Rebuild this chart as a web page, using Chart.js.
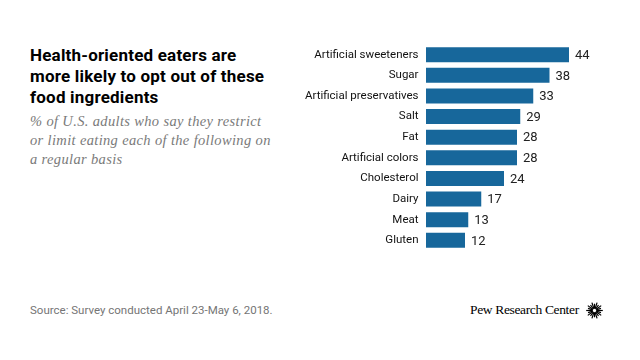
<!DOCTYPE html>
<html><head><meta charset="utf-8">
<script src="https://cdn.jsdelivr.net/npm/chart.js@4/dist/chart.umd.min.js"></script>
<style>
html,body{margin:0;padding:0;background:#fff;width:640px;height:360px;overflow:hidden;position:relative;font-family:Roboto,"Liberation Sans",sans-serif}
#title{position:absolute;left:30px;top:45px;width:280px;font-weight:700;font-size:17px;line-height:21px;color:#000;letter-spacing:0.2px}
#sub{position:absolute;left:30px;top:112px;width:262px;font-family:"Liberation Serif",serif;font-style:italic;font-size:14.5px;line-height:19px;color:#7a7a7a;letter-spacing:0.35px}
#src{position:absolute;left:30px;top:303px;font-size:11.5px;color:#757575}
#pew{position:absolute;left:470px;top:302px;font-family:"Liberation Serif",serif;font-size:13.5px;color:#000;letter-spacing:-0.35px}
#wrap{position:absolute;left:300px;top:30px;width:321px;height:235px}
#logo{position:absolute;left:586px;top:302px}
</style></head><body>
<div id="title">Health-oriented eaters are<br>more likely to opt out of these<br>food ingredients</div>
<div id="sub">% of U.S. adults who say they restrict<br>or limit eating each of the following on<br>a regular basis</div>
<div id="src">Source: Survey conducted April 23-May 6, 2018.</div>
<div id="pew">Pew Research Center</div>
<svg id="logo" width="17" height="17" viewBox="-8.5 -8.5 17 17"></svg>
<div id="wrap"><canvas id="c" width="321" height="235"></canvas></div>
<script>
const categories = ["Artificial sweeteners","Sugar","Artificial preservatives","Salt","Fat","Artificial colors","Cholesterol","Dairy","Meat","Gluten"];
const values = [44,38,33,29,28,28,24,17,13,12];

// sunburst logo
(function(){
  const svg=document.getElementById('logo');let s='';
  for(let i=0;i<20;i++){const a=i*Math.PI/10;const r1=1.8,r2=(i%2?6.8:8.3);
    s+=`<line x1="${(r1*Math.cos(a)).toFixed(2)}" y1="${(r1*Math.sin(a)).toFixed(2)}" x2="${(r2*Math.cos(a)).toFixed(2)}" y2="${(r2*Math.sin(a)).toFixed(2)}" stroke="#000" stroke-width="1.2"/>`;}
  svg.innerHTML=s;
})();

const valueLabels={id:'valueLabels',afterDatasetsDraw(chart){
  const ctx=chart.ctx;const meta=chart.getDatasetMeta(0);
  ctx.save();ctx.font='13px Roboto, "Liberation Sans", sans-serif';ctx.fillStyle='#222';ctx.textAlign='left';ctx.textBaseline='middle';
  meta.data.forEach((b,i)=>{ctx.fillText(String(values[i]),b.x+6,b.y+1);});
  ctx.restore();
}};

new Chart(document.getElementById('c'),{
  type:'bar',
  data:{labels:categories,datasets:[{data:values,backgroundColor:'#17679b',borderWidth:0,barPercentage:0.73,categoryPercentage:1}]},
  options:{
    indexAxis:'y',responsive:false,animation:false,
    layout:{padding:0},
    plugins:{legend:{display:false},tooltip:{enabled:false}},
    scales:{
      x:{min:0,max:60,display:false,grid:{display:false}},
      y:{grid:{display:false,drawTicks:false},border:{display:false},
         ticks:{color:'#111',font:{size:11.5,family:'Roboto, "Liberation Sans", sans-serif'},padding:7.5,autoSkip:false},
         afterFit(a){a.width=126;}}
    }
  },
  plugins:[valueLabels]
});
</script>
</body></html>
